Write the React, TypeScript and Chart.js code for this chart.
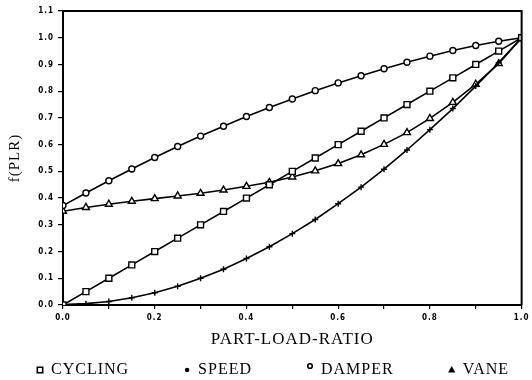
import React, { useEffect, useRef } from 'react';
import { Chart, registerables } from 'chart.js';

Chart.register(...registerables);

// Part-load ratio (x values)
const plr = [0, 0.05, 0.1, 0.15, 0.2, 0.25, 0.3, 0.35, 0.4, 0.45, 0.5, 0.55, 0.6, 0.65, 0.7, 0.75, 0.8, 0.85, 0.9, 0.95, 1.0];

// f(PLR) series values
const cycling = [0, 0.05, 0.1, 0.15, 0.2, 0.25, 0.3, 0.35, 0.4, 0.45, 0.5, 0.55, 0.6, 0.65, 0.7, 0.75, 0.8, 0.85, 0.9, 0.95, 1.0];
const speed = [0.002, 0.005, 0.013, 0.027, 0.046, 0.07, 0.1, 0.134, 0.174, 0.218, 0.267, 0.32, 0.379, 0.441, 0.508, 0.58, 0.656, 0.735, 0.819, 0.907, 1.0];
const damper = [0.372, 0.419, 0.465, 0.509, 0.552, 0.593, 0.632, 0.669, 0.705, 0.739, 0.771, 0.802, 0.831, 0.858, 0.884, 0.908, 0.931, 0.952, 0.971, 0.987, 1.0];
const vane = [0.351, 0.365, 0.377, 0.388, 0.398, 0.408, 0.418, 0.43, 0.444, 0.459, 0.479, 0.502, 0.529, 0.562, 0.601, 0.645, 0.698, 0.758, 0.826, 0.903, 1.0];

const seriesNames = ['CYCLING', 'SPEED', 'DAMPER', 'VANE'];
const seriesValues = [cycling, speed, damper, vane];
const plotMarkers = ['rect', 'cross', 'circle', 'triangle'];
const plotMarkerRadius = [4.2, 3, 3, 4];
const legendMarkers = ['openSquare', 'dot', 'openCircle', 'filledTriangle'];

const xTitle = 'PART-LOAD-RATIO';
const yTitle = 'f(PLR)';

const LEGEND_START = 37;
const LEGEND_Y = 370;
const LEGEND_GAP = 55;

function drawLegendMarker(ctx: CanvasRenderingContext2D, kind: string, x: number, y: number) {
  ctx.save();
  ctx.strokeStyle = '#000';
  ctx.fillStyle = '#000';
  ctx.lineWidth = 1.6;
  ctx.beginPath();
  if (kind === 'openSquare') {
    ctx.rect(x - 2.7, y - 2.7, 5.4, 5.4);
    ctx.stroke();
  } else if (kind === 'dot') {
    ctx.arc(x, y, 2.2, 0, Math.PI * 2);
    ctx.fill();
  } else if (kind === 'openCircle') {
    ctx.arc(x, y - 4, 2.3, 0, Math.PI * 2);
    ctx.stroke();
  } else {
    ctx.moveTo(x, y - 4);
    ctx.lineTo(x + 3.6, y + 2.5);
    ctx.lineTo(x - 3.6, y + 2.5);
    ctx.closePath();
    ctx.fill();
  }
  ctx.restore();
}

const spacingPlugin = {
  id: 'spacing',
  beforeDraw(chart: any) {
    (chart.ctx as any).letterSpacing = '1px';
  },
};

const legendPlugin = {
  id: 'scanLegend',
  afterDraw(chart: any) {
    const ctx: CanvasRenderingContext2D = chart.ctx;
    ctx.save();
    ctx.font = '16px "Liberation Serif", "Times New Roman", serif';
    (ctx as any).letterSpacing = '1px';
    ctx.textBaseline = 'middle';
    ctx.textAlign = 'left';
    ctx.fillStyle = '#000';
    let x = LEGEND_START;
    seriesNames.forEach((name, i) => {
      drawLegendMarker(ctx, legendMarkers[i], x + 3, LEGEND_Y);
      ctx.fillText(name, x + 14, LEGEND_Y);
      x += 14 + ctx.measureText(name).width + LEGEND_GAP;
    });
    ctx.restore();
  },
};

const framePlugin = {
  id: 'frame',
  afterDatasetsDraw(chart: any) {
    const { ctx, chartArea } = chart;
    const { left, top, right, bottom } = chartArea;
    ctx.save();
    ctx.strokeStyle = '#000';
    ctx.lineWidth = 2;
    ctx.beginPath();
    ctx.moveTo(left, top);
    ctx.lineTo(right, top);
    ctx.lineTo(right, bottom);
    ctx.stroke();
    ctx.restore();
  },
};

export default function App() {
  const canvasRef = useRef<HTMLCanvasElement | null>(null);

  useEffect(() => {
    if (!canvasRef.current) return;
    const datasets = seriesNames.map((name, i) => ({
      label: name,
      data: plr.map((x, j) => ({ x, y: seriesValues[i][j] })),
      borderColor: '#000',
      borderWidth: 1.6,
      backgroundColor: '#fff',
      pointStyle: plotMarkers[i] as any,
      pointRadius: plotMarkerRadius[i],
      pointBorderWidth: 1.4,
      pointBorderColor: '#000',
      pointBackgroundColor: '#fff',
      tension: 0,
      fill: false,
    }));

    const tickFont = { family: '"DejaVu Sans Condensed", "DejaVu Sans", sans-serif', size: 8, weight: 'bold' as const };

    const chart = new Chart(canvasRef.current, {
      type: 'line',
      data: { datasets },
      plugins: [spacingPlugin, framePlugin, legendPlugin],
      options: {
        animation: false,
        responsive: false,
        maintainAspectRatio: false,
        layout: { padding: { top: 11, right: 9, left: 0, bottom: 0 } },
        plugins: {
          legend: { display: false },
          tooltip: { enabled: false },
        },
        scales: {
          x: {
            type: 'linear',
            min: 0,
            max: 1,
            afterFit: (scale: any) => {
              scale.height = 75;
            },
            ticks: {
              stepSize: 0.1,
              color: '#000',
              font: tickFont,
              padding: 4,
              maxRotation: 0,
              autoSkip: false,
              callback: (v: any) => (Math.round(Number(v) * 10) % 2 === 0 ? Number(v).toFixed(1) : ''),
            },
            grid: { drawOnChartArea: false, drawTicks: true, tickLength: 4, color: '#000', lineWidth: 1.2 },
            border: { display: true, color: '#000', width: 2 },
            title: {
              display: true,
              text: xTitle,
              color: '#000',
              font: { family: '"Liberation Serif", "Times New Roman", serif', size: 17 },
              padding: { top: 0, bottom: 30 },
            },
          },
          y: {
            type: 'linear',
            min: 0,
            max: 1.1,
            afterFit: (scale: any) => {
              scale.width = 63;
            },
            ticks: {
              stepSize: 0.1,
              color: '#000',
              font: tickFont,
              padding: 4,
              autoSkip: false,
              callback: (v: any) => Number(v).toFixed(1),
            },
            grid: { drawOnChartArea: false, drawTicks: true, tickLength: 5, color: '#000', lineWidth: 1.2 },
            border: { display: true, color: '#000', width: 2 },
            title: {
              display: true,
              text: yTitle,
              color: '#000',
              font: { family: '"Liberation Serif", "Times New Roman", serif', size: 15 },
              padding: { top: 6, bottom: 0 },
            },
          },
        },
      },
    });
    return () => chart.destroy();
  }, []);

  return (
    <div style={{ position: 'fixed', left: 0, top: 0, width: 532, height: 380, background: '#fff' }}>
      <canvas ref={canvasRef} width={532} height={380} style={{ display: 'block', width: 532, height: 380 }} />
    </div>
  );
}
